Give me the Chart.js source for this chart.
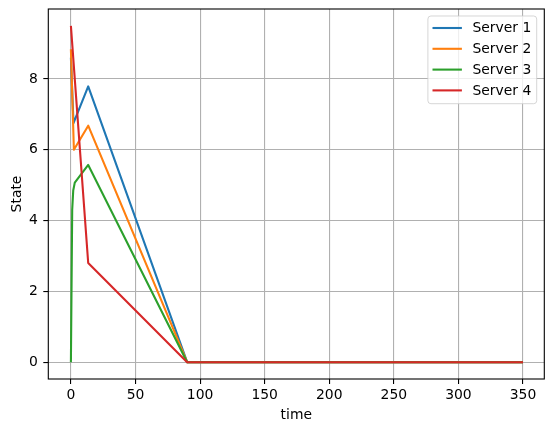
<!DOCTYPE html>
<html>
<head>
<meta charset="utf-8">
<script src="https://cdn.jsdelivr.net/npm/chart.js@4"></script>
<style>
  html, body { margin: 0; padding: 0; background: #fff; }
  #chart { display: block; }
</style>
</head>
<body>
<canvas id="chart" width="554" height="432"></canvas>
<script>
// values
const labels = ["Server 1", "Server 2", "Server 3", "Server 4"];
const colors = ["#1f77b4", "#ff7f0e", "#2ca02c", "#d62728"];

const time1 = [0, 2, 13.4, 90, 350];
const state1 = [8.6, 6.75, 7.79, 0, 0];

const time2 = [0, 2.3, 13.4, 90, 350];
const state2 = [8.84, 6.0, 6.68, 0, 0];

const time3 = [0, 1, 1.8, 3, 13.4, 90, 350];
const state3 = [0, 4.3, 4.85, 5.07, 5.57, 0, 0];

const time4 = [0, 13.4, 90, 350];
const state4 = [9.5, 2.8, 0, 0];

const xTicks = [0, 50, 100, 150, 200, 250, 300, 350];
const yTicks = [0, 2, 4, 6, 8];

const times = [time1, time2, time3, time4];
const states = [state1, state2, state3, state4];

const FONT = { family: '"DejaVu Sans", sans-serif', size: 13.9 };

// matplotlib style: all four spines drawn over the lines
const spines = {
  id: "spines",
  afterDatasetsDraw(chart) {
    const { ctx, chartArea: a } = chart;
    ctx.save();
    ctx.strokeStyle = "#000";
    ctx.lineWidth = 1.1;
    ctx.strokeRect(a.left, a.top, a.right - a.left, a.bottom - a.top);
    ctx.restore();
  }
};

// framed legend in the upper right corner
const boxLegend = {
  id: "boxLegend",
  afterDraw(chart) {
    const { ctx, chartArea: a } = chart;
    const sets = chart.data.datasets;
    ctx.save();
    ctx.font = `${FONT.size}px ${FONT.family}`;
    const textW = Math.max(...sets.map(d => ctx.measureText(d.label).width));
    const padL = 4.6, handle = 29.4, gap = 10.6, padR = 5.4;
    const rowH = 20.8, padT = 12, padB = 13.3;
    const w = padL + handle + gap + textW + padR;
    const h = padT + rowH * (sets.length - 1) + padB;
    const x0 = a.right - 7.6 - w;
    const y0 = a.top + 7;

    ctx.beginPath();
    ctx.roundRect(x0, y0, w, h, 3);
    ctx.fillStyle = "rgba(255,255,255,0.8)";
    ctx.fill();
    ctx.strokeStyle = "rgba(204,204,204,0.8)";
    ctx.lineWidth = 1;
    ctx.stroke();

    ctx.textBaseline = "middle";
    ctx.textAlign = "left";
    sets.forEach((d, i) => {
      const y = y0 + padT + i * rowH;
      ctx.beginPath();
      ctx.moveTo(x0 + padL, y);
      ctx.lineTo(x0 + padL + handle, y);
      ctx.strokeStyle = d.borderColor;
      ctx.lineWidth = 2.1;
      ctx.stroke();
      ctx.fillStyle = "#000";
      ctx.fillText(d.label, x0 + padL + handle + gap, y + 0.5);
    });
    ctx.restore();
  }
};

const datasets = labels.map((name, i) => ({
  label: name,
  data: times[i].map((t, k) => ({ x: t, y: states[i][k] })),
  borderColor: colors[i],
  backgroundColor: colors[i],
  borderWidth: 2.1,
  pointRadius: 0,
  tension: 0,
  fill: false,
  borderJoinStyle: "round",
  order: labels.length - 1 - i
}));

new Chart(document.getElementById("chart"), {
  type: "line",
  data: { datasets },
  options: {
    responsive: false,
    animation: false,
    devicePixelRatio: 1,
    layout: { padding: { top: 9, right: 9.7, left: 0, bottom: 0 } },
    plugins: { legend: { display: false }, tooltip: { enabled: false } },
    scales: {
      x: {
        type: "linear",
        min: -17.5,
        max: 366.5,
        afterFit: s => { s.height = 53; s.paddingLeft = 0; s.paddingRight = 0; },
        afterBuildTicks: s => { s.ticks = xTicks.map(v => ({ value: v })); },
        border: { display: false },
        grid: { color: "#b0b0b0", lineWidth: 1.1, tickColor: "#000", tickLength: 5, tickWidth: 1.1 },
        ticks: { color: "#000", font: FONT, padding: 3.4, maxRotation: 0 },
        title: { display: true, text: "time", color: "#000", font: FONT, padding: { top: 0, bottom: 8.5 } }
      },
      y: {
        type: "linear",
        min: -0.475,
        max: 9.975,
        afterFit: s => { s.width = 48.3; s.paddingTop = 0; s.paddingBottom = 0; },
        afterBuildTicks: s => { s.ticks = yTicks.map(v => ({ value: v })); },
        border: { display: false },
        grid: { color: "#b0b0b0", lineWidth: 1.1, tickColor: "#000", tickLength: 5, tickWidth: 1.1 },
        ticks: { color: "#000", font: FONT, padding: 5.5 },
        title: { display: true, text: "State", color: "#000", font: FONT, padding: { top: 9.5, bottom: 0 } }
      }
    }
  },
  plugins: [spines, boxLegend]
});
</script>
</body>
</html>
